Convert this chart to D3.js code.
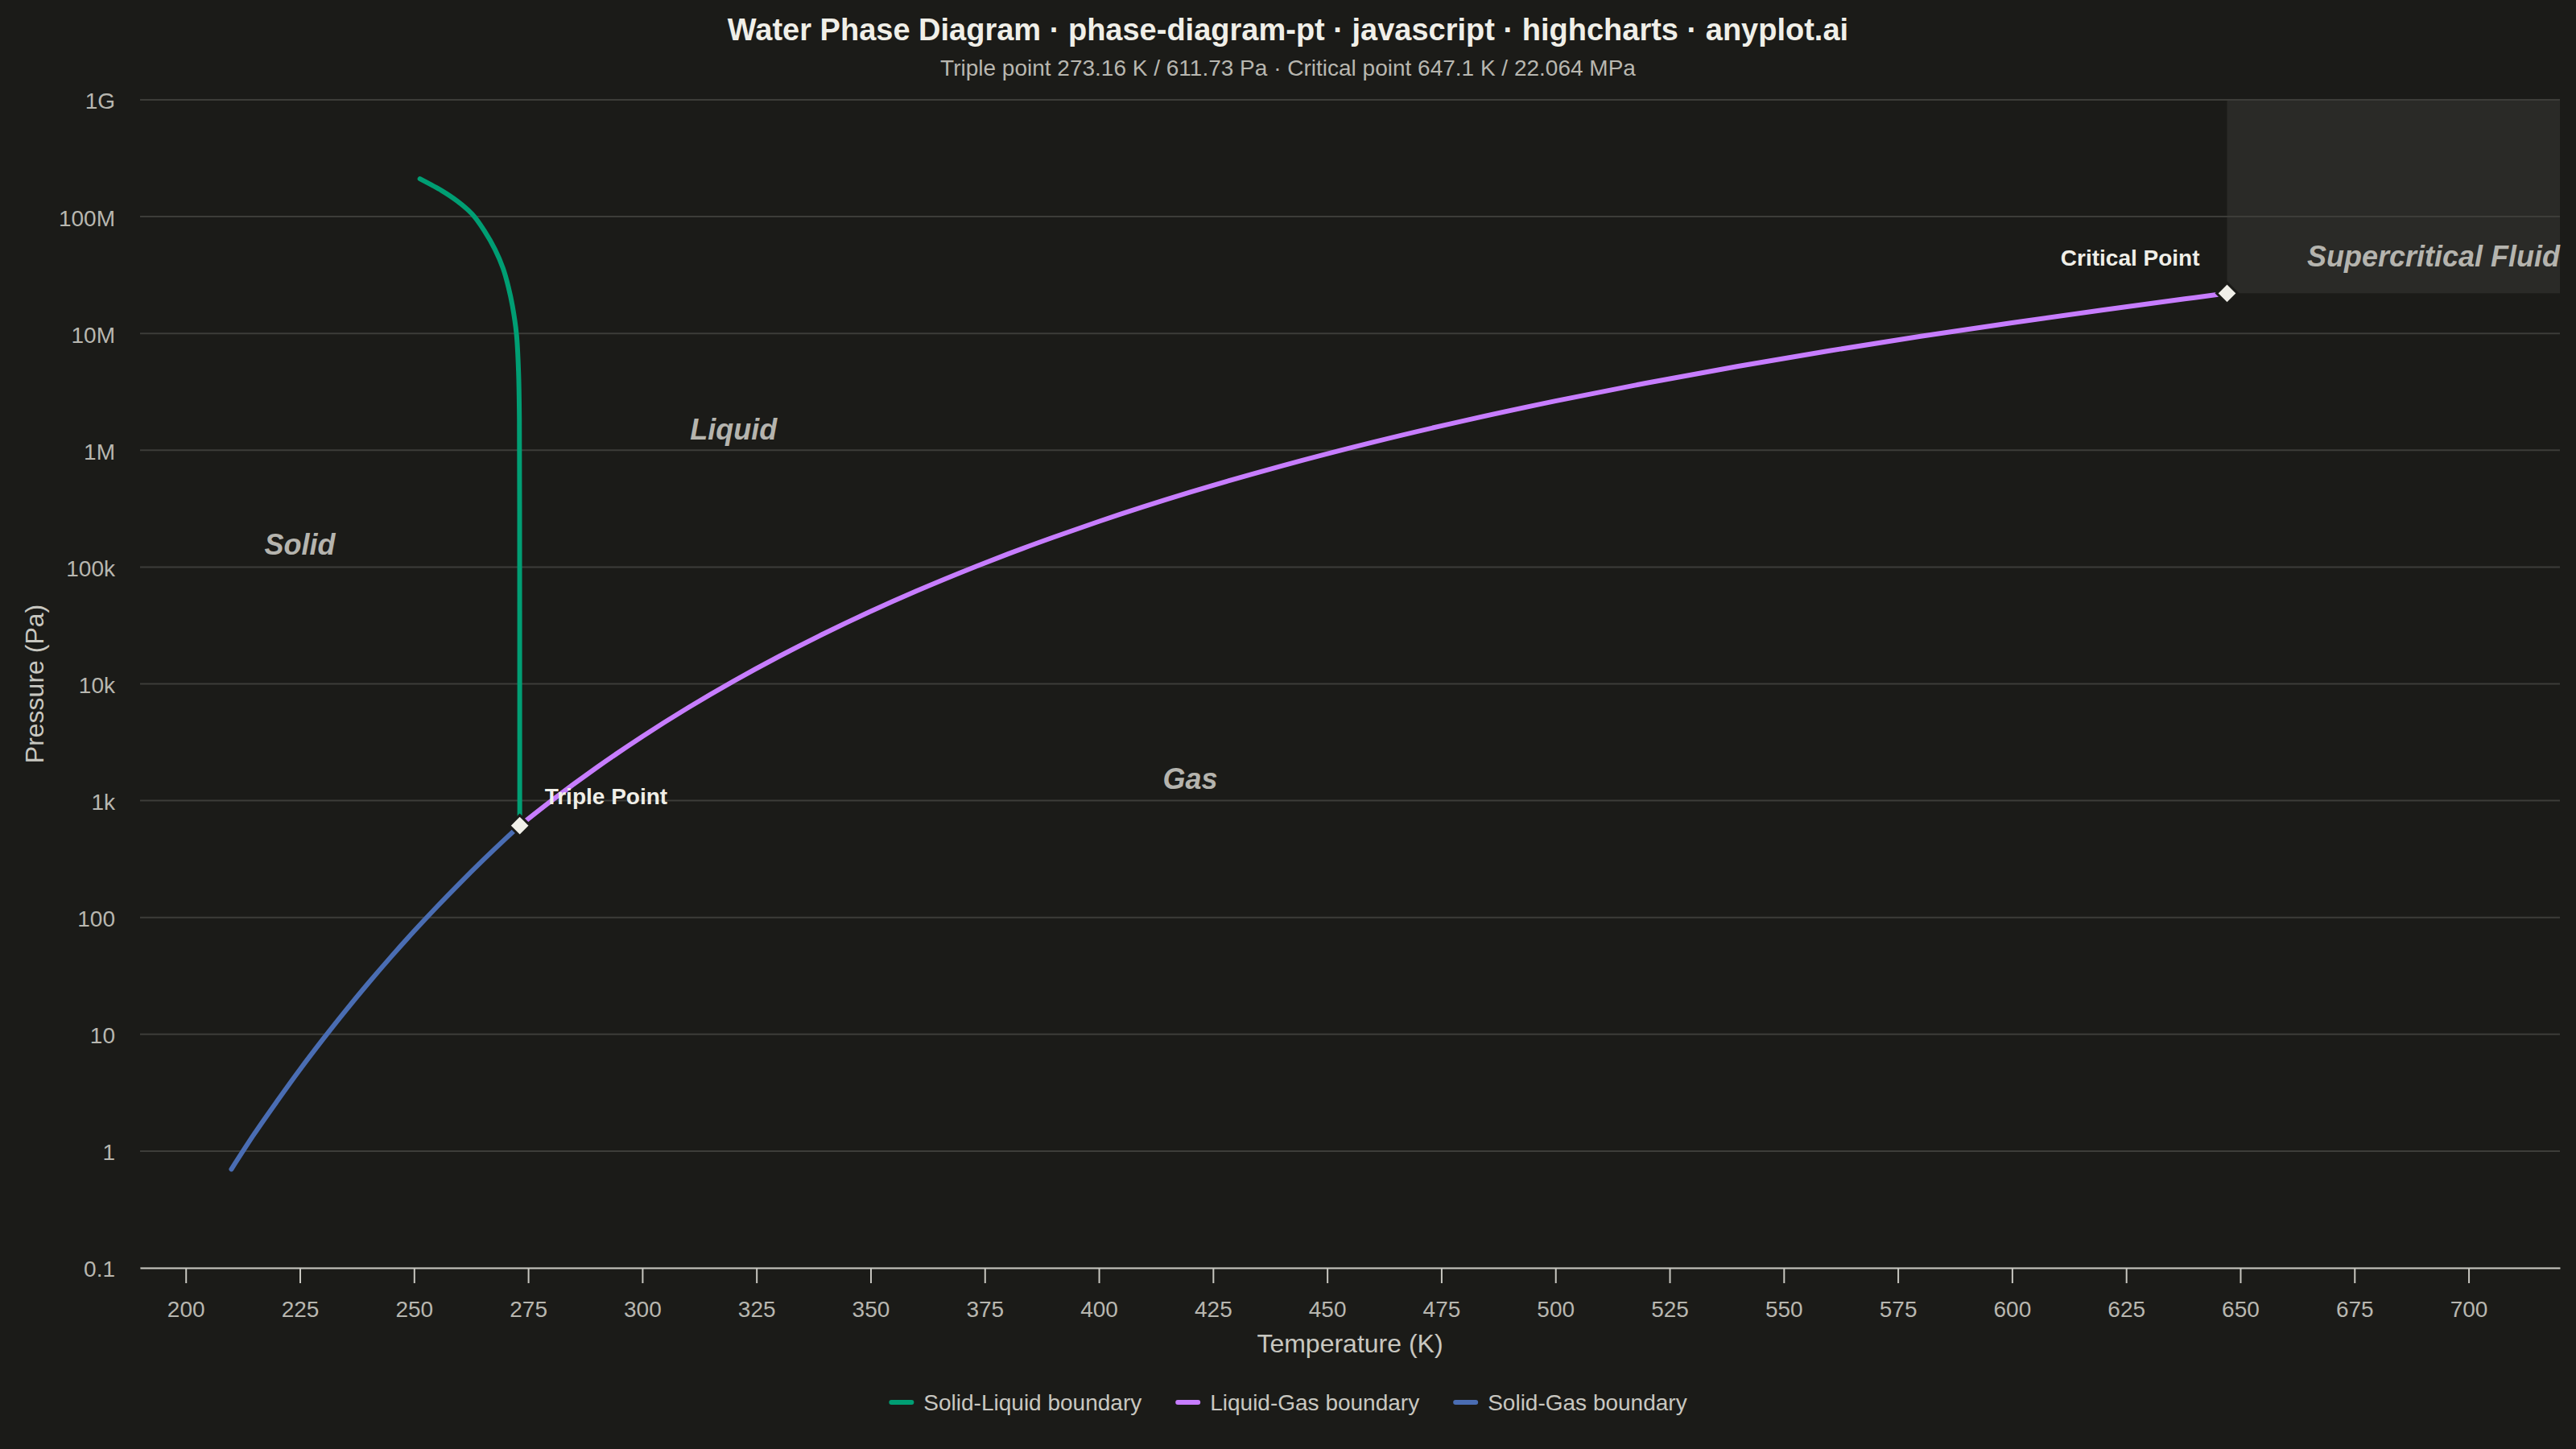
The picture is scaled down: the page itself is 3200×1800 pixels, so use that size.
<!DOCTYPE html>
<html>
<head>
<meta charset="utf-8">
<script src="https://cdn.jsdelivr.net/npm/d3@7"></script>
<style>
  html, body { margin: 0; padding: 0; background: #1b1b18; }
  svg { display: block; font-family: "Liberation Sans", Arial, sans-serif; }
</style>
</head>
<body>
<div id="chart"></div>
<script>
var width = 3200,
    height = 1800;

var margin = { top: 124, right: 20, bottom: 225, left: 174 };

// phase boundaries (T in K, P in Pa)
var solidLiquidT = [273.16, 273.15, 273.13, 273.08, 272.9, 272.44, 271.56, 270.68, 269.5, 267.74, 265.4, 262.75, 259.5, 256.0, 251.3];
var solidLiquidP = [611.73, 1e4, 3e5, 1.86e6, 4.6e6, 9.9e6, 1.72e7, 2.49e7, 3.61e7, 5.23e7, 7.57e7, 1.05e8, 1.357e8, 1.676e8, 2.107e8];

var liquidGasT = [273.16, 280, 290, 300, 310, 320, 330, 340, 350, 360, 373.15, 380, 390, 400, 420, 440, 460, 480, 500, 520, 540, 560, 580, 600, 620, 640, 647.1];
var liquidGasP = [611.73, 991.8, 1920, 3537, 6231, 10546, 17213, 27188, 41682, 62194, 101418, 129020, 179640, 245770, 437300, 733670, 1170900, 1790500, 2639200, 3769000, 5236900, 7106200, 9448000, 12345000, 15901000, 20265000, 22064000];

var solidGasT = [210, 215, 220, 225, 230, 235, 240, 245, 250, 255, 260, 265, 270, 273.16];
var solidGasP = [0.70, 1.40, 2.67, 4.98, 9.0, 15.9, 27.4, 46.2, 76.3, 123.4, 196.0, 306.2, 470.3, 611.73];

var seriesNames = ["Solid-Liquid boundary", "Liquid-Gas boundary", "Solid-Gas boundary"];
var seriesColors = ["#009e73", "#c77dff", "#4a6db3"];

var pointNames = ["Triple Point", "Critical Point"];
var pointT = [273.16, 647.1];
var pointP = [611.73, 22064000];

var regionNames = ["Solid", "Liquid", "Gas", "Supercritical Fluid"];
var regionT = [225, 320, 420, 720];
var regionP = [1.55e5, 1.5e6, 1.55e3, 4.6e7];

var xTicks = d3.range(200, 701, 25);
var yTicks = [0.1, 1, 10, 100, 1e3, 1e4, 1e5, 1e6, 1e7, 1e8, 1e9];
var yTickLabels = ["0.1", "1", "10", "100", "1k", "10k", "100k", "1M", "10M", "100M", "1G"];

var x = d3.scaleLinear()
    .domain([190, 720])
    .range([margin.left, width - margin.right]);

var y = d3.scaleLog()
    .domain([0.1, 1e9])
    .range([height - margin.bottom, margin.top]);

var svg = d3.select("#chart").append("svg")
    .attr("width", width)
    .attr("height", height);

svg.append("rect")
    .attr("width", width)
    .attr("height", height)
    .attr("fill", "#1b1b18");

// title
svg.append("text")
    .attr("x", width / 2)
    .attr("y", 50)
    .attr("text-anchor", "middle")
    .attr("fill", "#f0efe8")
    .style("font-size", "38px")
    .style("font-weight", "bold")
    .text("Water Phase Diagram · phase-diagram-pt · javascript · highcharts · anyplot.ai");

svg.append("text")
    .attr("x", width / 2)
    .attr("y", 94)
    .attr("text-anchor", "middle")
    .attr("fill", "#b8b7b0")
    .style("font-size", "28px")
    .text("Triple point 273.16 K / 611.73 Pa · Critical point 647.1 K / 22.064 MPa");

// supercritical zone
svg.append("rect")
    .attr("x", x(pointT[1]))
    .attr("y", y(1e9))
    .attr("width", x(720) - x(pointT[1]))
    .attr("height", y(pointP[1]) - y(1e9))
    .attr("fill", "#ffffff")
    .attr("fill-opacity", 0.065);

// horizontal grid
svg.append("g")
    .selectAll("line")
    .data(yTicks)
    .enter().append("line")
    .attr("x1", x(190))
    .attr("x2", x(720))
    .attr("y1", function (d) { return y(d); })
    .attr("y2", function (d) { return y(d); })
    .attr("stroke", "#3d3d39")
    .attr("stroke-width", 2);

// y axis labels
var yAxis = d3.axisLeft(y)
    .tickValues(yTicks)
    .tickSize(0)
    .tickPadding(31)
    .tickFormat(function (d, i) { return yTickLabels[i]; });

svg.append("g")
    .attr("transform", "translate(" + margin.left + ",2)")
    .call(yAxis)
    .call(function (g) { g.select(".domain").remove(); })
    .selectAll("text")
    .attr("fill", "#b8b7b0")
    .style("font-size", "28px")
    .style("font-family", "Liberation Sans, Arial, sans-serif");

// x axis
var xAxis = d3.axisBottom(x)
    .tickValues(xTicks)
    .tickSize(19)
    .tickSizeOuter(0)
    .tickPadding(22);

var gx = svg.append("g")
    .attr("transform", "translate(0," + y(0.1) + ")")
    .call(xAxis);

gx.select(".domain").attr("stroke", "#c8c7c0").attr("stroke-width", 2);
gx.selectAll(".tick line").attr("stroke", "#c8c7c0").attr("stroke-width", 2);
gx.selectAll("text")
    .attr("fill", "#b8b7b0")
    .style("font-size", "28px")
    .style("font-family", "Liberation Sans, Arial, sans-serif");

// axis titles
svg.append("text")
    .attr("x", (x(190) + x(720)) / 2)
    .attr("y", 1680)
    .attr("text-anchor", "middle")
    .attr("fill", "#c8c7c0")
    .style("font-size", "32px")
    .text("Temperature (K)");

svg.append("text")
    .attr("transform", "translate(54," + ((y(0.1) + y(1e9)) / 2) + ") rotate(-90)")
    .attr("text-anchor", "middle")
    .attr("fill", "#c8c7c0")
    .style("font-size", "32px")
    .text("Pressure (Pa)");

// region labels
svg.append("g")
    .selectAll("text")
    .data(regionNames)
    .enter().append("text")
    .attr("x", function (d, i) { return x(regionT[i]); })
    .attr("y", function (d, i) { return y(regionP[i]); })
    .attr("dy", "0.35em")
    .attr("text-anchor", function (d, i) { return i == 3 ? "end" : "middle"; })
    .attr("fill", "#b5b4ae")
    .style("font-size", "36px")
    .style("font-weight", "bold")
    .style("font-style", "italic")
    .text(function (d) { return d; });

// boundary curves
var line = d3.line()
    .x(function (d) { return x(d[0]); })
    .y(function (d) { return y(d[1]); })
    .curve(d3.curveMonotoneX);

var lineMelt = d3.line()
    .x(function (d) { return x(d[0]); })
    .y(function (d) { return y(d[1]); })
    .curve(d3.curveCatmullRom.alpha(0.5));

var curves = [
    d3.zip(solidLiquidT, solidLiquidP),
    d3.zip(liquidGasT, liquidGasP),
    d3.zip(solidGasT, solidGasP)
];

svg.append("g")
    .selectAll("path")
    .data(curves)
    .enter().append("path")
    .attr("d", function (d, i) { return i == 0 ? lineMelt(d) : line(d); })
    .attr("fill", "none")
    .attr("stroke", function (d, i) { return seriesColors[i]; })
    .attr("stroke-width", 6)
    .attr("stroke-linecap", "round")
    .attr("stroke-linejoin", "round");

// triple and critical point markers
var r = 13;
svg.append("g")
    .selectAll("path")
    .data(pointNames)
    .enter().append("path")
    .attr("transform", function (d, i) { return "translate(" + x(pointT[i]) + "," + y(pointP[i]) + ")"; })
    .attr("d", "M0," + (-r) + "L" + r + ",0L0," + r + "L" + (-r) + ",0Z")
    .attr("fill", "#f0efe8")
    .attr("stroke", "#1b1b18")
    .attr("stroke-width", 3);

svg.append("g")
    .selectAll("text")
    .data(pointNames)
    .enter().append("text")
    .attr("x", function (d, i) { return x(pointT[i]) + (i == 0 ? 31 : -34); })
    .attr("y", function (d, i) { return y(pointP[i]) + (i == 0 ? -36 : -44); })
    .attr("dy", "0.35em")
    .attr("text-anchor", function (d, i) { return i == 0 ? "start" : "end"; })
    .attr("fill", "#f0efe8")
    .style("font-size", "28px")
    .style("font-weight", "bold")
    .text(function (d) { return d; });

// legend
var legend = svg.append("g");
var items = legend.selectAll("g")
    .data(seriesNames)
    .enter().append("g");

items.append("rect")
    .attr("y", -3)
    .attr("width", 31)
    .attr("height", 6)
    .attr("rx", 3)
    .attr("fill", function (d, i) { return seriesColors[i]; });

items.append("text")
    .attr("x", 43)
    .attr("dy", "0.35em")
    .attr("fill", "#c8c7c0")
    .style("font-size", "28px")
    .text(function (d) { return d; });

var offset = 0;
items.each(function () {
    var w = 43 + d3.select(this).select("text").node().getComputedTextLength();
    d3.select(this).attr("transform", "translate(" + offset + ",0)");
    offset += w + 42;
});
offset -= 42;
legend.attr("transform", "translate(" + (width / 2 - offset / 2) + ",1742)");
</script>
</body>
</html>
